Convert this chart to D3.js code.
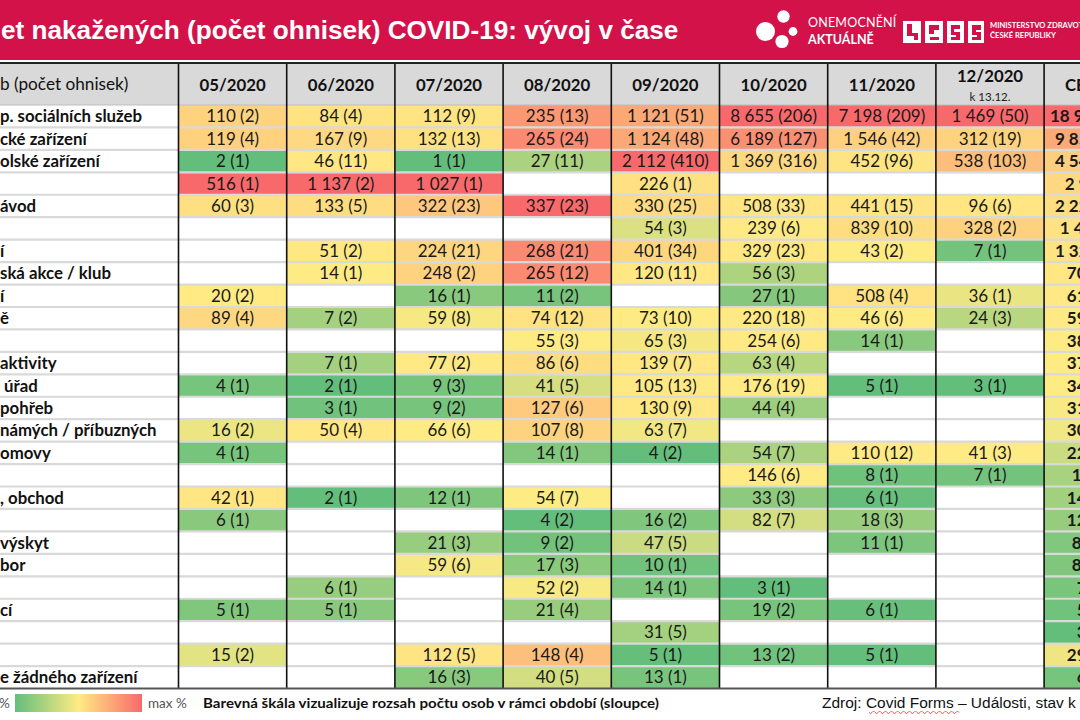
<!DOCTYPE html>
<html><head><meta charset="utf-8">
<script src="https://cdn.jsdelivr.net/npm/d3@7"></script>
<style>body{margin:0;background:#fff}svg{display:block}</style>
</head><body>
<svg id="c" width="1080" height="720"></svg>
<script>
// ---------- DATA ----------
const months = ["05/2020","06/2020","07/2020","08/2020","09/2020","10/2020","11/2020","12/2020"];
const totalLabel = "CELKEM";
const decNote = "k 13.12.";
const rowLabels = ["p. sociálních služeb","cké zařízení","olské zařízení","","ávod","","í","ská akce / klub","í","ě","","aktivity","\u00a0úřad","pohřeb","námých / příbuzných","omovy","",", obchod","","výskyt","bor","","cí","","","e žádného zařízení"];
const headLabel = "b (počet ohnisek)";
const titleText = "et nakažených (počet ohnisek) COVID-19: vývoj v čase";
const legendNote = "Barevná škála vizualizuje rozsah počtu osob v rámci období (sloupce)";
const sourceText = "Zdroj: Covid Forms – Události, stav k 13. 12. 2020";

// persons per month (row order), null = empty
const p05 = [110,119,2,516,60,null,null,null,20,89,null,null,4,null,16,4,null,42,6,null,null,null,5,null,15,null];
const o05 = [2,4,1,1,3,null,null,null,2,4,null,null,1,null,2,1,null,1,1,null,null,null,1,null,2,null];
const p06 = [84,167,46,1137,133,null,51,14,null,7,null,7,2,3,50,null,null,2,null,null,null,6,5,null,null,null];
const o06 = [4,9,11,2,5,null,2,1,null,2,null,1,1,1,4,null,null,1,null,null,null,1,1,null,null,null];
const p07 = [112,132,1,1027,322,null,224,248,16,59,null,77,9,9,66,null,null,12,null,21,59,null,null,null,112,16];
const o07 = [9,13,1,1,23,null,21,2,1,8,null,2,3,2,6,null,null,1,null,3,6,null,null,null,5,3];
const p08 = [235,265,27,null,337,null,268,265,11,74,55,86,41,127,107,14,null,54,4,9,17,52,21,null,148,40];
const o08 = [13,24,11,null,23,null,21,12,2,12,3,6,5,6,8,1,null,7,2,2,3,2,4,null,4,5];
const p09 = [1121,1124,2112,226,330,54,401,120,null,73,65,139,105,130,63,4,null,null,16,47,10,14,null,31,5,13];
const o09 = [51,48,410,1,25,3,34,11,null,10,3,7,13,9,7,2,null,null,2,5,1,1,null,5,1,1];
const p10 = [8655,6189,1369,null,508,239,329,56,27,220,254,63,176,44,null,54,146,33,82,null,null,3,19,null,13,null];
const o10 = [206,127,316,null,33,6,23,3,1,18,6,4,19,4,null,7,6,3,7,null,null,1,2,null,2,null];
const p11 = [7198,1546,452,null,441,839,43,null,508,46,14,null,5,null,null,110,8,6,18,11,null,null,6,null,5,null];
const o11 = [209,42,96,null,15,10,2,null,4,6,1,null,1,null,null,12,1,1,3,1,null,null,1,null,1,null];
const p12 = [1469,312,538,null,96,328,7,null,36,24,null,null,3,null,null,41,7,null,null,null,null,null,null,null,null,null];
const o12 = [50,19,103,null,6,2,1,null,1,3,null,null,1,null,null,3,1,null,null,null,null,null,null,null,null,null];
const pTot = [18984,9854,4547,2906,2227,1460,1323,703,618,592,388,372,345,313,302,227,161,149,126,88,86,75,56,31,298,69];
const oTot = [544,286,949,5,133,21,104,29,11,63,13,20,44,22,27,26,8,14,15,11,10,5,9,5,15,9];

// ---------- SETUP ----------
const W = 1080, H = 720;
const svg = d3.select("#c");
const RED = "#D3124A";
const cols = months.concat([totalLabel]);
const colPersons = [p05,p06,p07,p08,p09,p10,p11,p12,pTot];
const colOutbreaks = [o05,o06,o07,o08,o09,o10,o11,o12,oTot];
const fmt = d3.formatLocale({decimal:",", thousands:" ", grouping:[3], currency:["",""]}).format(",d");

const x = d3.scaleBand().domain(cols).range([178.5, 178.5 + 9*108.2]);
const y = d3.scaleBand().domain(d3.range(rowLabels.length)).range([105, 688.5]);
const bw = x.bandwidth(), bh = y.bandwidth();
const TF = "Lato, 'Open Sans', sans-serif";
const AF = "'Liberation Sans', Arial, sans-serif";

// title band
svg.append("rect").attr("x",0).attr("y",0).attr("width",W).attr("height",60).attr("fill",RED);
const title = svg.append("text").attr("x",1).attr("y",38.5).attr("fill","#fff")
  .attr("font-family",AF).attr("font-weight","bold").attr("font-size",28).text(titleText);
(function(){const w=title.node().getComputedTextLength(); title.attr("font-size",28*678/w);})();

// logo 1
const lg = svg.append("g").attr("fill","#fff");
[[765.5,31.5,9.5],[783.5,16.5,6.2],[793,31.5,4.4],[782,41.5,6.6]].forEach(c=>lg.append("circle").attr("cx",c[0]).attr("cy",c[1]).attr("r",c[2]));
lg.append("text").attr("x",808).attr("y",26.5).attr("font-family",TF).attr("font-size",12.5).attr("letter-spacing",0.2).text("ONEMOCNĚNÍ");
lg.append("text").attr("x",808).attr("y",44).attr("font-family",TF).attr("font-weight","bold").attr("font-size",12.5).text("AKTUÁLNĚ");
// logo 2 (MZ ČR stylized)
const mz = svg.append("g");
const blocks = [[903,21,18,22],[925,21,18,22],[947,21,17,22],[968,21,16,22]];
blocks.forEach(b=>mz.append("rect").attr("x",b[0]).attr("y",b[1]).attr("width",b[2]).attr("height",b[3]).attr("fill","#fff"));
mz.append("path").attr("fill",RED).attr("d",
 "M907,24h5v9h6v7h-4v-4h-7z M929,25h10v5h-5v4h-5z M930,37h9v3h-9z M951,25h9v4h-6v3h6v8h-9v-3h5v-2h-5z M972,25h9v5h-5v2h5v8h-9v-3h5v-2h-5z");
mz.append("text").attr("x",990).attr("y",28).attr("fill","#fff").attr("font-family",TF).attr("font-size",7.6).attr("font-weight","bold").text("MINISTERSTVO ZDRAVOTNICTVÍ");
mz.append("text").attr("x",990).attr("y",38).attr("fill","#fff").attr("font-family",TF).attr("font-size",7.6).attr("font-weight","bold").text("ČESKÉ REPUBLIKY");

// header row
svg.append("rect").attr("x",0).attr("y",63).attr("width",W).attr("height",42).attr("fill","#d9d9d9");
svg.append("text").attr("x",0).attr("y",90).attr("font-family",TF).attr("font-size",17.2).attr("fill","#111").text(headLabel);
svg.append("g").selectAll("text").data(cols).join("text")
  .attr("x",d=>x(d)+bw/2).attr("y",d=>d==="12/2020"?82:90.5)
  .attr("text-anchor","middle").attr("font-family",TF).attr("font-weight","bold").attr("font-size",16.8).attr("fill","#111")
  .text(d=>d);
svg.append("text").attr("x",x("12/2020")+bw/2).attr("y",101).attr("text-anchor","middle")
  .attr("font-family",TF).attr("font-size",11.5).attr("fill","#222").text(decNote);

// cells
const cg = svg.append("g");
cols.forEach((c,ci)=>{
  const vals = colPersons[ci];
  const nn = vals.filter(v=>v!=null).sort(d3.ascending);
  const color = d3.scaleLinear().domain([d3.min(nn), d3.quantile(nn,0.5), d3.max(nn)])
    .range(["#63BE7B","#FFEB84","#F8696B"]).interpolate(d3.interpolateRgb);
  const cells = vals.map((v,r)=>({v, n: colOutbreaks[ci][r], r})).filter(d=>d.v!=null);
  cg.append("g").selectAll("rect").data(cells).join("rect")
    .attr("x",x(c)).attr("y",d=>y(d.r)).attr("width",bw).attr("height",bh).attr("fill",d=>color(d.v));
  cg.append("g").selectAll("text").data(cells).join("text")
    .attr("x",x(c)+bw/2).attr("y",d=>y(d.r)+bh/2+6)
    .attr("text-anchor","middle").attr("font-family",TF).attr("font-size",17)
    .attr("font-weight",c===totalLabel?"bold":"normal").attr("fill","#1a1a1a")
    .text(d=>`${fmt(d.v)} (${d.n})`);
});

// row labels
svg.append("g").selectAll("text").data(rowLabels).join("text")
  .attr("x",0).attr("y",(d,i)=>y(i)+bh/2+6)
  .attr("font-family",TF).attr("font-weight","bold").attr("font-size",16.8).attr("fill","#111")
  .text(d=>d);

// grid lines
const gl = svg.append("g");
gl.selectAll("line.h").data(d3.range(1,rowLabels.length)).join("line")
  .attr("x1",0).attr("x2",W).attr("y1",d=>y(d)).attr("y2",d=>y(d))
  .attr("stroke","#d9d9d9").attr("stroke-width",2.2);
gl.append("line").attr("x1",0).attr("x2",W).attr("y1",105).attr("y2",105).attr("stroke","#bdbdbd").attr("stroke-width",1.2);
gl.selectAll("line.v").data(cols).join("line")
  .attr("x1",d=>x(d)).attr("x2",d=>x(d)).attr("y1",63).attr("y2",688.5)
  .attr("stroke","#111").attr("stroke-width",1.6);
gl.append("line").attr("x1",0).attr("x2",W).attr("y1",63).attr("y2",63).attr("stroke","#222").attr("stroke-width",2);
gl.append("line").attr("x1",0).attr("x2",W).attr("y1",688.5).attr("y2",688.5).attr("stroke","#555").attr("stroke-width",2);

// legend
const defs = svg.append("defs");
const grad = defs.append("linearGradient").attr("id","lg");
[["0%","#63BE7B"],["50%","#FFEB84"],["100%","#F8696B"]].forEach(s=>grad.append("stop").attr("offset",s[0]).attr("stop-color",s[1]));
svg.append("rect").attr("x",15).attr("y",694).attr("width",127).attr("height",18).attr("fill","url(#lg)");
svg.append("text").attr("x",-1).attr("y",708).attr("font-family",TF).attr("font-size",13.5).attr("fill","#555").text("%");
svg.append("text").attr("x",148).attr("y",708).attr("font-family",TF).attr("font-size",13.5).attr("fill","#555").text("max %");
svg.append("text").attr("x",203).attr("y",708).attr("font-family",TF).attr("font-weight","bold").attr("font-size",14)
  .attr("fill","#111").attr("textLength",456).attr("lengthAdjust","spacingAndGlyphs").text(legendNote);

// source
const src = svg.append("text").attr("x",822).attr("y",708).attr("font-family",AF).attr("font-size",15).attr("fill","#111").text(sourceText);
(function(){
  const t = svg.append("text").attr("font-family",AF).attr("font-size",15).text("Zdroj: Covid Forms – Události, stav k");
  const w = t.node().getComputedTextLength(); t.remove();
  src.attr("font-size",15*254/w);
})();
// spell-check squiggle under "Covid Forms"
let sq = "M869,712.5";
for (let xx=869; xx<957; xx+=3) sq += ` L${xx+1.5},${(xx/3)%2<1?711:713.5} L${xx+3},712.5`;
svg.append("path").attr("d",sq).attr("fill","none").attr("stroke","#d33").attr("stroke-width",0.8);
</script>
</body></html>
